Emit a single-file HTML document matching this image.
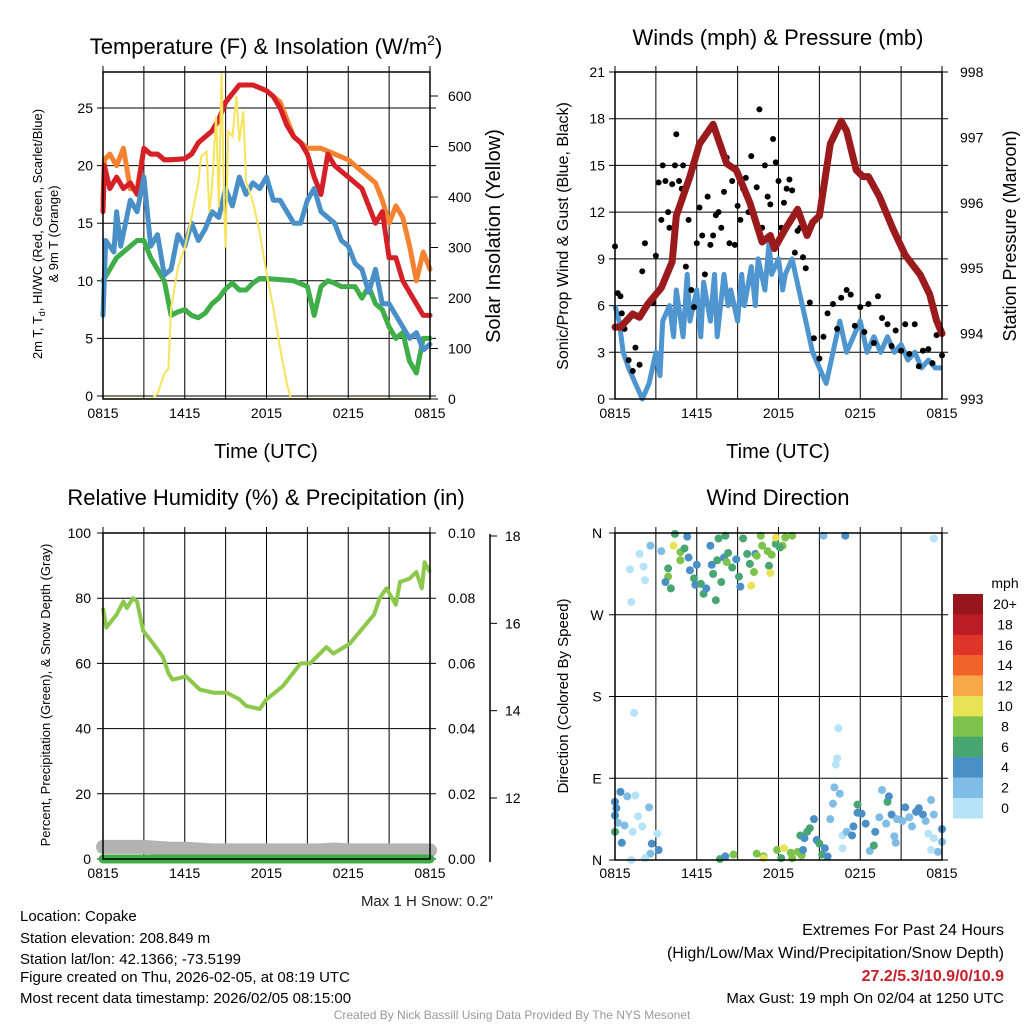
<!DOCTYPE html>
<html><head><meta charset="utf-8"><style>
body{margin:0;background:#fff;}
svg text{font-family:"Liberation Sans",sans-serif;}
</style></head><body>
<svg id="s" width="1024" height="1024" viewBox="0 0 1024 1024" xmlns="http://www.w3.org/2000/svg">
<text x="266" y="54" font-size="22" text-anchor="middle">Temperature (F) &amp; Insolation (W/m<tspan font-size="14" dy="-9">2</tspan><tspan dy="9">)</tspan></text>
<text x="778" y="45" font-size="22" text-anchor="middle">Winds (mph) &amp; Pressure (mb)</text>
<text x="266" y="505" font-size="22" text-anchor="middle">Relative Humidity (%) &amp; Precipitation (in)</text>
<text x="778" y="505" font-size="22" text-anchor="middle">Wind Direction</text>
<g id="p1"></g>
<g id="p2"></g>
<g id="p3"></g>
<g id="p4"></g>
<text transform="translate(42,234) rotate(-90)" font-size="13" text-anchor="middle">2m T, T<tspan font-size="9" dy="3">d</tspan><tspan dy="-3">, HI/WC (Red, Green, Scarlet/Blue)</tspan></text>
<text transform="translate(58,234) rotate(-90)" font-size="13" text-anchor="middle">&amp; 9m T (Orange)</text>
<text transform="translate(500,236) rotate(-90)" font-size="20" text-anchor="middle">Solar Insolation (Yellow)</text>
<text x="266" y="458" font-size="20" text-anchor="middle">Time (UTC)</text>
<text transform="translate(568,236) rotate(-90)" font-size="16" text-anchor="middle">Sonic/Prop Wind &amp; Gust (Blue, Black)</text>
<text transform="translate(1016,236) rotate(-90)" font-size="18" text-anchor="middle">Station Pressure (Maroon)</text>
<text x="778" y="458" font-size="20" text-anchor="middle">Time (UTC)</text>
<text transform="translate(50,695) rotate(-90)" font-size="13" text-anchor="middle">Percent, Precipitation (Green), &amp; Snow Depth (Gray)</text>
<text transform="translate(568,696) rotate(-90)" font-size="15" text-anchor="middle">Direction (Colored By Speed)</text>
<text x="493" y="906" font-size="15" text-anchor="end" fill="#222">Max 1 H Snow: 0.2"</text>
<g font-size="15">
<text x="20" y="921">Location: Copake</text>
<text x="20" y="943">Station elevation: 208.849 m</text>
<text x="20" y="964">Station lat/lon: 42.1366; -73.5199</text>
<text x="20" y="982">Figure created on Thu, 2026-02-05, at 08:19 UTC</text>
<text x="20" y="1003">Most recent data timestamp: 2026/02/05 08:15:00</text>
</g>
<g font-size="16" text-anchor="end">
<text x="1004" y="935">Extremes For Past 24 Hours</text>
<text x="1004" y="958">(High/Low/Max Wind/Precipitation/Snow Depth)</text>
<text x="1004" y="981" fill="#c8202a" font-weight="bold">27.2/5.3/10.9/0/10.9</text>
<text x="1004" y="1003" font-size="15">Max Gust: 19 mph On 02/04 at 1250 UTC</text>
</g>
<text x="512" y="1019" font-size="12" fill="#999" text-anchor="middle">Created By Nick Bassill Using Data Provided By The NYS Mesonet</text>
</svg>
<script>
// ---- data ----
const timeLabels=["0815","1415","2015","0215","0815"];
const redH=[0,0.1,0.5,1,1.5,2,2.5,3,3.5,4,4.5,5,6,6.5,7,8,8.5,9,10,11,12,12.5,13,13.5,14,14.5,15,15.5,16,16.5,17,17.5,18,19,20,20.5,21,21.5,22,23,23.5,24];
const redV=[16,20,18,19,18,18.5,17.5,21.5,21,21,20.5,20.5,20.6,21,22,23,24,25.5,27,27,26.5,26,25,23.5,22.5,22,21,19,17.5,21,20,19.5,19,18,15,16,12,12,10,8,7,7];
const orgH=[0,0.1,0.5,1,1.5,2,2.5,3,3.5,4,4.5,5,6,6.5,7,8,8.5,9,10,11,12,13,14,15,16,17,18,19,20,20.5,21,21.5,22,22.5,23,23.5,24];
const orgV=[17,20.5,21,20,21.5,18,18,21.5,21,21,20.5,20.5,20.6,21,22,23,24,25.5,27,27,26.5,25.5,22.5,21.5,21.5,21,20.5,19.5,18.5,17,15,16.5,15.5,13,10,12.5,11];
const bluH=[0,0.2,0.5,0.8,1,1.3,2,2.5,3,3.5,4,4.5,5,5.5,6,6.5,7,7.5,8,8.5,9,9.5,10,10.5,11,11.5,12,12.5,13,13.5,14,14.5,15,15.5,16,16.5,17,17.5,18,18.5,19,19.5,20,20.5,21,21.5,22,22.5,23,23.5,24];
const bluV=[7,13.5,13,12.5,16,13,17,16,19,13,14,10.5,11,14,13,15,13.5,14.5,16,15.5,18,16.5,19,17.5,18.5,18,19,17,17,16,15,15,17,18,16,15.5,15,13.5,13,11.5,11,9,11,8,8,7,6,5,5.5,4,4.5];
const grnH=[0,0.5,1,1.5,2,2.5,3,3.5,4,4.5,5,5.5,6,6.5,7,7.5,8,8.5,9,9.5,10,10.5,11,11.5,12,13,14,15,15.5,16,16.5,17,17.5,18,18.5,19,19.5,20,20.5,21,21.5,22,22.5,23,23.5,24];
const grnV=[10,11,12,12.5,13,13.5,13.5,12,11,10,7,7.3,7.5,7,6.8,7.2,8,8.5,9.3,9.8,9.2,9.2,9.8,10.2,10.2,10.1,10,9.5,7,9.5,10,9.8,9.5,9.5,9.5,8.5,9.5,8,7.5,6,5,5.5,3,2,5,5];
const solH=[0,3.5,4,4.5,4.8,5,5.5,6,6.5,7,7.2,7.6,7.8,8,8.3,8.5,8.7,8.9,9,9.2,9.5,9.8,10,10.3,10.5,11,11.5,12,12.5,13,13.5,13.8,24];
const solV=[0,0,10,50,60,180,260,300,360,430,480,490,370,420,560,380,650,370,300,530,520,600,510,570,430,390,330,250,180,100,30,0,0];
const windH=[0,0.3,0.6,1,1.5,2,2.5,3,3.3,3.5,4,4.3,4.5,5,5.3,5.5,6,6.3,6.5,7,7.3,7.5,8,8.3,8.5,9,9.3,9.5,10,10.3,10.5,11,11.3,11.5,12,12.3,12.5,13,13.5,14,14.5,15,15.5,16,16.5,17,17.5,18,18.5,19,19.5,20,20.5,21,21.5,22,22.5,23,23.5,24];
const windV=[6,5,3,2,1,0,1,3,1.5,5,6,4,7,4,8,5,7,4,7.5,5,8,4,8,6,7,5,8,6,8.5,6,9,7,10,8,9,7,8,9,7,5,3,2,1,3,5,3,4,5,3,4,3,4,3,3.5,2.5,3,2,2.5,2,2];
const presH=[0,0.4,1.3,1.8,2.4,3.4,4.2,4.5,5.5,6.2,7.2,8.2,8.9,9.9,10.8,11.4,11.7,12.5,13.4,14.1,14.5,15,15.8,16.6,17,17.7,18.2,18.6,19.4,20.4,21.3,22.4,23.1,23.6,24];
const presV=[994.1,994.1,994.3,994.25,994.45,994.7,995.1,995.8,996.4,996.9,997.2,996.6,996.5,996,995.4,995.5,995.3,995.6,995.9,995.5,995.7,995.8,996.9,997.25,997.1,996.5,996.4,996.4,996.1,995.6,995.2,994.9,994.6,994.2,994];
const gustH=[0,0.2,0.4,0.5,0.7,1.0,1.3,1.5,1.8,2.0,2.2,2.5,2.8,3.0,3.2,3.4,3.5,3.7,3.9,4.0,4.2,4.4,4.5,4.7,4.9,5.0,5.2,5.4,5.6,5.8,6.0,6.2,6.4,6.6,6.8,7.0,7.2,7.4,7.6,7.8,8.0,8.2,8.4,8.6,8.8,9.0,9.2,9.4,9.6,9.8,10.0,10.2,10.4,10.6,10.8,11.0,11.2,11.4,11.6,11.8,12.0,12.2,12.4,12.6,12.8,13.0,13.2,13.4,13.6,13.8,14.0,14.3,14.6,15.0,15.3,15.6,16.0,16.3,16.6,17.0,17.3,17.6,18.0,18.3,18.6,19.0,19.3,19.6,20.0,20.3,20.6,21.0,21.3,21.6,22.0,22.3,22.6,23.0,23.3,23.6,24.0];
const gustV=[9.8,6.8,6.6,5.5,4.5,2.5,1.8,3.3,2.2,8.2,10,6.2,6.2,9.2,13.9,11.5,15,14,12,11,13.8,15,17,14,13.5,15,8.5,11.5,7,5.9,10,12.3,10.5,8,13,9.9,10.5,11.8,12,11,13.3,15.5,10,14,9.9,12.4,11.5,13.5,14.2,12,15.6,11.9,13.6,18.6,11,15,13,12.5,16.7,15.2,14,11,12.6,13.5,14.1,13.4,9.4,10.8,11,9.1,8.4,6.2,3.9,2.6,4,5.5,6.1,4.5,6.5,7,6.7,4.7,5.9,4.3,6.1,3.6,6.6,5.2,4.8,3.4,4.4,3.1,4.8,2.9,4.8,2.1,3.1,3.2,2.3,4.1,2.8];
const rhH=[0,0.25,1,1.5,1.75,2.2,2.5,2.95,3.7,4.4,4.8,5.1,6.1,7.1,8.1,9.1,10,10.5,11.5,12,13.2,14.5,15.2,16.4,16.9,18.1,18.9,19.9,20.3,20.8,21.5,21.8,22.5,23,23.4,23.6,24];
const rhV=[77,71,75,79,77,80,79,70,66,62,57,55,56,52,51,51,49,47,46,49,53,60,60,65,63,66,70,75,80,83,78,85,86,88,83,91,88];
const snowH=[0,1,2,3,4,5,6,7,8,9,10,12,14,16,17,18,20,22,24];
const snowV=[10.88,10.88,10.88,10.88,10.86,10.84,10.84,10.82,10.8,10.8,10.8,10.8,10.8,10.8,10.82,10.8,10.8,10.8,10.8];
const precipH=[0,24];
const precipV=[0,0];
const dirH=[2.6,1.8,1.1,2.1,2.2,1.2,3.4,4.4,4.3,4.8,4.8,5.3,5.1,5.4,3.9,3.9,3.7,4.1,5.5,5.8,5.9,6.3,6.5,6.7,6.0,7.0,7.4,7.6,7.5,7.1,7.2,8.0,8.1,8.3,8.2,8.6,8.9,7.8,9.1,9.2,9.4,9.7,9.9,10.0,10.2,10.3,10.4,10.7,10.8,11.2,11.3,11.4,11.5,11.8,11.8,12.3,12.5,13.0,12.1,15.3,16.9,23.4,1.4,16.4,16.3,16.2,0.4,0,0.1,0,0.9,1.5,2.5,1.7,2.0,0.2,0.7,1.3,0,0.5,2.7,3.1,3.2,2.6,1.2,2.2,7.7,8.1,8.7,10.4,10.9,10.9,11.9,12.4,12.2,12.9,13.0,13.4,13.7,13.8,13.6,13.9,14.1,14.3,14.6,14.8,15.0,15.2,15.4,15.6,15.8,16.0,16.1,16.5,16.7,16.7,17.0,17.4,17.5,17.8,17.8,18.1,18.4,18.7,19.0,19.1,19.6,19.4,19.9,20.0,20.1,20.3,20.5,20.6,20.7,21.1,21.3,21.6,21.8,22.1,22.3,22.6,22.8,23.0,23.2,23.4,23.4,23.7,24,24,23.2];
const dirD=[346,337,320,323,308,284,340,359,346,339,330,356,343,333,321,312,306,299,319,310,303,304,293,299,325,346,286,354,330,325,315,333,357,338,328,322,331,306,312,301,354,337,326,302,317,337,335,357,346,340,324,316,336,348,355,346,355,357,344,357,357,354,162,145,112,105,75,64,57,49,70,71,58,48,37,41,38,31,31,19,18,29,11,7,0,2,1,4,6,7,4,2,11,13,2,8,2,9,5,11,27,24,31,35,45,22,18,6,13,4,45,62,80,73,27,13,31,27,37,61,52,51,40,10,16,31,77,47,40,64,70,50,26,19,45,43,58,47,37,53,57,50,43,29,66,50,24,9,34,20,11];
const dirS=[2.5,0.5,0.5,0.5,0.5,0.5,2.5,6.5,10.5,8.5,8.5,4.5,6.5,4.5,6.5,8.5,4.5,6.5,4.5,6.5,4.5,6.5,6.5,4.5,4.5,4.5,6.5,6.5,6.5,4.5,6.5,4.5,6.5,6.5,8.5,6.5,4.5,6.5,6.5,4.5,6.5,6.5,6.5,10.5,8.5,4.5,8.5,8.5,8.5,8.5,6.5,10.5,8.5,6.5,10.5,8.5,8.5,8.5,6.5,2.5,4.5,0.5,0.5,0.5,0.5,0.5,4.5,4.5,4.5,4.5,2.5,0.5,2.5,0.5,0.5,2.5,2.5,0.5,6.5,4.5,4.5,0.5,4.5,2.5,0.5,0.5,6.5,4.5,8.5,8.5,8.5,10.5,8.5,10.5,6.5,8.5,8.5,8.5,8.5,4.5,6.5,4.5,6.5,6.5,4.5,4.5,6.5,6.5,4.5,4.5,2.5,2.5,2.5,2.5,0.5,0.5,2.5,4.5,4.5,6.5,4.5,4.5,4.5,2.5,6.5,4.5,2.5,2.5,2.5,6.5,4.5,4.5,2.5,2.5,2.5,2.5,4.5,2.5,2.5,4.5,4.5,4.5,2.5,0.5,2.5,2.5,0.5,2.5,4.5,2.5,0.5];
const cbLabels=["20+","18","16","14","12","10","8","6","4","2","0"];
const cbColors=["#96161b","#bc1c25","#df3429","#f16429","#f7a847","#e8e257","#7cc24b","#48a672","#4a8fc6","#7fbce6","#b7e3f8"];

// ---- helpers ----
const NS="http://www.w3.org/2000/svg";
function mk(parent,tag,attrs){const e=document.createElementNS(NS,tag);for(const k in attrs)e.setAttribute(k,attrs[k]);parent.appendChild(e);return e;}
function txt(parent,x,y,s,size,anchor){const t=mk(parent,'text',{x:x,y:y,'font-size':size,'text-anchor':anchor});t.textContent=s;return t;}
function lin(a0,a1,b0,b1){return v=>b0+(v-a0)/(a1-a0)*(b1-b0);}
function path(xs,ys,fx,fy){return xs.map((h,i)=>(i?'L':'M')+fx(h).toFixed(1)+','+fy(ys[i]).toFixed(1)).join('');}
function speedColor(s){let i=Math.min(10,Math.floor(s/2));return cbColors[10-i];}

function frame(g,x0,x1,y0,y1,fx,vgrid,hvals,fy){
  vgrid.forEach(h=>{const l=mk(g,'line',{x1:fx(h),x2:fx(h),y1:y0-6,y2:y1,stroke:'#000','stroke-width':1});});
  hvals.forEach(v=>{const l=mk(g,'line',{x1:x0-6,x2:x1+6,y1:fy(v),y2:fy(v),stroke:'#000','stroke-width':1});});
}
function border(g,x0,x1,y0,y1){const r=mk(g,'rect',{x:x0,y:y0,width:x1-x0,height:y1-y0,fill:'none',stroke:'#000','stroke-width':1.5});}
function xlabels(g,fx,y){[0,6,12,18,24].forEach((h,i)=>{const t=txt(g,fx(h),y,timeLabels[i],14,'middle');});}
const g3h=[0,3,6,9,12,15,18,21,24];

// ---- panel 1 ----
(function(){
const g=document.getElementById('p1');
const x0=103,x1=430,y0=72,y1=399;
const fx=lin(0,24,x0,x1), fy=lin(0,25,396,108), fs=lin(0,600,399,96);
frame(g,x0,x1,y0,y1,fx,g3h,[0,5,10,15,20,25],fy);
[0,5,10,15,20,25].forEach(v=>{const t=txt(g,x0-10,fy(v)+5,String(v),14,'end');});
[0,100,200,300,400,500,600].forEach(v=>{mk(g,'line',{x1:x1,x2:x1+8,y1:fs(v),y2:fs(v),stroke:'#000'});const t=txt(g,x1+18,fs(v)+5,String(v),14,'start');});
xlabels(g,fx,418);
const cl=mk(g,'clipPath',{id:'c1'});mk(cl,'rect',{x:x0-8,y:y0,width:x1-x0+16,height:y1-y0});
const series=[[grnH,grnV,'#3fae49',fy,'green-td-line'],[orgH,orgV,'#f58231',fy,'orange-9m-line'],[redH,redV,'#d62027',fy,'red-2m-line'],[bluH,bluV,'#4a90c8',fy,'blue-wc-line']];
series.forEach(s=>{const p=mk(g,'path',{d:path(s[0],s[1],fx,s[3]),fill:'none',stroke:s[2],'stroke-width':5,'stroke-linejoin':'round','stroke-linecap':'round','clip-path':'url(#c1)'});});
const p=mk(g,'path',{d:path(solH,solV,fx,fs),fill:'none',stroke:'#f8e45c','stroke-width':2,'clip-path':'url(#c1)'});

border(g,x0,x1,y0,y1);
})();

// ---- panel 2 ----
(function(){
const g=document.getElementById('p2');
const x0=615,x1=942,y0=72,y1=399;
const fx=lin(0,24,x0,x1), fy=lin(0,21,y1,y0), fp=lin(993,998,y1,y0);
const wt=[0,3,6,9,12,15,18,21];
frame(g,x0,x1,y0,y1,fx,g3h,wt,fy);
wt.forEach(v=>{const t=txt(g,x0-10,fy(v)+5,String(v),14,'end');});
[993,994,995,996,997,998].forEach(v=>{const t=txt(g,x1+18,fp(v)+5,String(v),14,'start');});
xlabels(g,fx,418);
const w=mk(g,'path',{d:path(windH,windV,fx,fy),fill:'none',stroke:'#4f95d0','stroke-width':5,'stroke-linejoin':'round'});

gustH.forEach((h,i)=>{const c=mk(g,'circle',{cx:fx(h),cy:fy(gustV[i]),r:3,fill:'#000'});

});
const pr=mk(g,'path',{d:path(presH,presV,fx,fp),fill:'none',stroke:'#9b1a1c','stroke-width':7,'stroke-linejoin':'round','stroke-linecap':'round'});

border(g,x0,x1,y0,y1);
})();

// ---- panel 3 ----
(function(){
const g=document.getElementById('p3');
const x0=103,x1=430,y0=533,y1=859;
const fx=lin(0,24,x0,x1), fy=lin(0,100,y1,y0), fpr=lin(0,0.1,y1,y0), fsn=lin(12,18,798,536);
frame(g,x0,x1,y0,y1,fx,g3h,[0,20,40,60,80,100],fy);
[0,20,40,60,80,100].forEach(v=>{const t=txt(g,x0-12,fy(v)+5,String(v),14,'end');});
["0.00","0.02","0.04","0.06","0.08","0.10"].forEach((s,i)=>{const t=txt(g,x1+18,fy(i*20)+5,s,14,'start');});
mk(g,'line',{x1:490,x2:490,y1:534,y2:862,stroke:'#000','stroke-width':1.5});
[12,14,16,18].forEach(v=>{mk(g,'line',{x1:490,x2:497,y1:fsn(v),y2:fsn(v),stroke:'#000'});const t=txt(g,505,fsn(v)+5,String(v),14,'start');});
xlabels(g,fx,878);
const sn=mk(g,'path',{d:path(snowH,snowV,fx,fsn),fill:'none',stroke:'#b3b3b3','stroke-width':14,'stroke-linecap':'round','stroke-linejoin':'round'});

const pp=mk(g,'path',{d:path(precipH,precipV,fx,fpr),fill:'none',stroke:'#3fae49','stroke-width':9,'stroke-linecap':'round'});

const rh=mk(g,'path',{d:path(rhH,rhV,fx,fy),fill:'none',stroke:'#8cc84b','stroke-width':4,'stroke-linejoin':'round'});

border(g,x0,x1,y0,y1);
})();

// ---- panel 4 ----
(function(){
const g=document.getElementById('p4');
const x0=615,x1=942,y0=533,y1=860;
const fx=lin(0,24,x0,x1), fy=lin(0,360,y1,y0);
frame(g,x0,x1,y0,y1,fx,g3h,[0,90,180,270,360],fy);
["N","E","S","W","N"].forEach((s,i)=>{const t=txt(g,x0-18,fy(i*90)+5,s,14,'middle');});
xlabels(g,fx,878);
dirH.forEach((h,i)=>{const c=mk(g,'circle',{cx:fx(h),cy:fy(dirD[i]),r:4,fill:speedColor(dirS[i])});

});
border(g,x0,x1,y0,y1);
const cb=mk(g,'g',{});
const t=txt(cb,1005,588,'mph',14,'middle');
cbColors.forEach((c,i)=>{mk(cb,'rect',{x:953,y:594+i*20.4,width:30,height:20.6,fill:c});
const l=txt(cb,1005,594+i*20.4+15,cbLabels[i],14,'middle');});
})();
</script>
</body></html>
